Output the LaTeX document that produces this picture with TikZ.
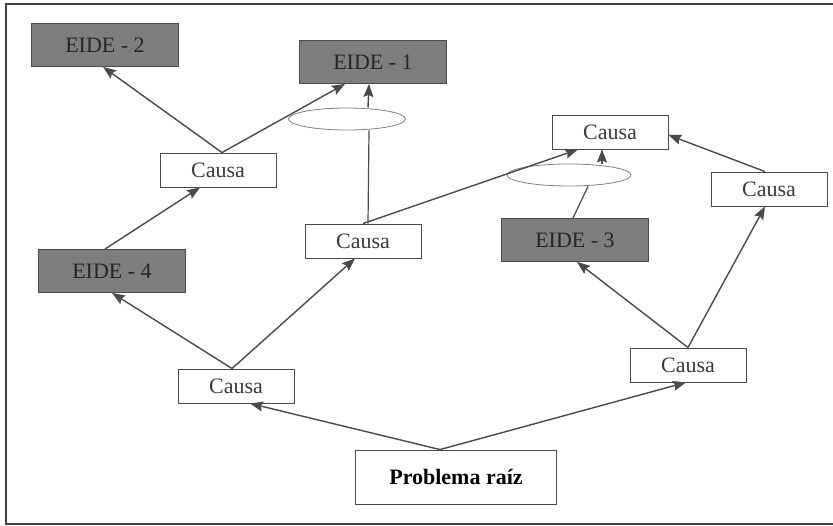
\documentclass[tikz,border=0pt]{standalone}
\usepackage{fontspec}
\setmainfont{Liberation Serif}
\usetikzlibrary{arrows.meta,shapes.geometric}
\definecolor{eidegray}{HTML}{7E7E7E}
\definecolor{linegray}{HTML}{4A4A4A}
\definecolor{textgray}{HTML}{3A3A3A}
\begin{document}
\begin{tikzpicture}[x=1pt,y=-1pt]
        \tikzset{causa box/.style={draw=linegray, line width=0.9pt, fill=white, minimum width=116pt, minimum height=34pt, inner sep=0pt, text=textgray, font=\fontsize{22}{25}\selectfont},
            eide box/.style={draw=black!70, line width=0.9pt, fill=eidegray, minimum width=147pt, minimum height=43pt, inner sep=0pt, text=black!85, font=\fontsize{22}{25}\selectfont},
            root box/.style={causa box, minimum width=201pt, minimum height=54pt, text=black, font=\fontsize{22}{25}\selectfont\bfseries},
            join oval/.style={draw=black!50, line width=0.8pt, ellipse, minimum width=117pt, minimum height=22pt, inner sep=0pt},
            link/.style={draw=linegray, line width=1.4pt, -{Stealth[length=13pt,width=10pt,inset=2pt]}},
            plain link/.style={draw=linegray, line width=1.2pt}}

        \useasboundingbox (0,0) rectangle (833,526);
        \draw[line width=1.3pt, draw=black!75] (833,4) -- (6,4) -- (6,524) -- (833,524);

        \node[eide box] (eide2) at (105,45) {EIDE - 2};
        \node[eide box] (eide1) at (373,62) {EIDE - 1};
        \node[eide box] (eide4) at (112,271) {EIDE - 4};
        \node[eide box] (eide3) at (575,240) {EIDE - 3};

        \node[join oval] (oval1) at (347,119) {};
        \node[join oval, minimum width=124pt] (oval2) at (569,175) {};

        \node[causa box] (cul) at (218,170) {Causa};
        \node[causa box] (cmid) at (363,241) {Causa};
        \node[causa box] (cll) at (236,386) {Causa};
        \node[causa box] (crl) at (688,365) {Causa};
        \node[causa box] (ctr) at (610,132) {Causa};
        \node[causa box] (cr) at (769,189) {Causa};
        \node[root box] (raiz) at (456,477) {Problema raíz};

        \draw[link] ([xshift=4pt]cul.north) -- ([xshift=-2pt]eide2.south);
        \draw[link] ([xshift=4pt]cul.north) -- ([xshift=-28pt]eide1.south);
        \draw[link] ([xshift=21pt]oval1.north) -- ([xshift=-4pt]eide1.south);
        \draw[plain link] ([xshift=5pt]cmid.north) -- ([xshift=22pt]oval1.south);
        \draw[link] (cmid.north) -- ([xshift=-32pt]ctr.south);
        \draw[link] ([xshift=33pt]oval2.north) -- ([xshift=-8pt]ctr.south);
        \draw[plain link] ([xshift=-2pt]eide3.north) -- ([xshift=19pt]oval2.south);
        \draw[link] ([xshift=-4pt]cr.north) -- ([yshift=-3pt]ctr.east);
        \draw[link] (crl.north) -- ([xshift=2pt]eide3.south);
        \draw[link] (crl.north) -- ([xshift=-4pt]cr.south);
        \draw[link] ([xshift=-4pt]cll.north) -- (eide4.south);
        \draw[link] ([xshift=-4pt]cll.north) -- ([xshift=-8pt]cmid.south);
        \draw[link] ([xshift=-7pt]eide4.north) -- ([xshift=-18pt]cul.south);
        \draw[link] ([xshift=-16pt]raiz.north) -- ([xshift=14pt]cll.south);
        \draw[link] ([xshift=-16pt]raiz.north) -- ([xshift=-2pt]crl.south);
    \end{tikzpicture}
\end{document}
